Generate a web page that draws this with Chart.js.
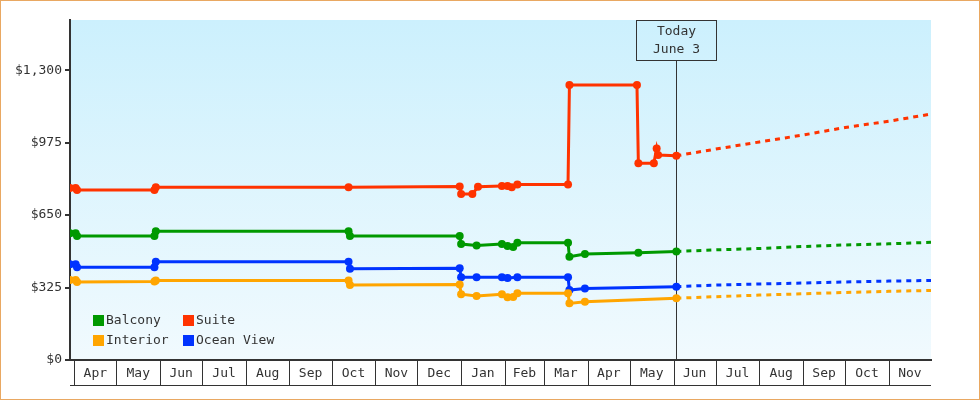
<!DOCTYPE html>
<html>
<head>
<meta charset="utf-8">
<title>Cabin prices</title>
<script src="https://cdn.jsdelivr.net/npm/chart.js@4.4.1/dist/chart.umd.min.js"></script>
<style>
  html, body { margin: 0; padding: 0; background: #fff; }
  canvas { display: block; }
</style>
</head>
<body>
<canvas id="grafico" width="980" height="400"></canvas>
<script>
// =============================
// DATOS
// =============================
const meses = ["Apr", "May", "Jun", "Jul", "Aug", "Sep", "Oct", "Nov", "Dec", "Jan",
  "Feb", "Mar", "Apr", "May", "Jun", "Jul", "Aug", "Sep", "Oct", "Nov"];
const iniciosMes = ["2016-04-01", "2016-05-01", "2016-06-01", "2016-07-01", "2016-08-01",
  "2016-09-01", "2016-10-01", "2016-11-01", "2016-12-01", "2017-01-01", "2017-02-01",
  "2017-03-01", "2017-04-01", "2017-05-01", "2017-06-01", "2017-07-01", "2017-08-01",
  "2017-09-01", "2017-10-01", "2017-11-01", "2017-12-01"];
const ticksPrecio = [0, 325, 650, 975, 1300];
const fechaInicio = "2016-03-29";
const fechaFin = "2017-12-01";
const fechaHoy = "2017-06-03";
const textoHoy = ["Today", "June 3"];

const fechasBalcony = ["2016-03-29", "2016-04-02", "2016-04-03", "2016-05-28", "2016-05-29",
  "2016-10-13", "2016-10-14", "2016-12-31", "2017-01-01", "2017-01-12", "2017-01-30",
  "2017-02-03", "2017-02-07", "2017-02-10", "2017-03-18", "2017-03-19", "2017-03-30",
  "2017-05-07", "2017-06-03"];
const preciosBalcony = [568, 568, 556, 556, 578, 578, 556, 556, 520, 514, 520, 511, 507,
  526, 526, 463, 475, 481, 487];

const fechasSuite = ["2016-03-29", "2016-04-02", "2016-04-03", "2016-05-28", "2016-05-29",
  "2016-10-13", "2016-12-31", "2017-01-01", "2017-01-09", "2017-01-13", "2017-01-30",
  "2017-02-03", "2017-02-06", "2017-02-10", "2017-03-18", "2017-03-19", "2017-05-06",
  "2017-05-07", "2017-05-18", "2017-05-20", "2017-05-21", "2017-06-03"];
const preciosSuite = [771, 771, 762, 762, 775, 775, 778, 744, 744, 777, 780, 780, 775,
  787, 787, 1233, 1233, 882, 882, 949, 919, 916];

const fechasInterior = ["2016-03-29", "2016-04-02", "2016-04-03", "2016-05-28", "2016-05-29",
  "2016-10-13", "2016-10-14", "2016-12-31", "2017-01-01", "2017-01-12", "2017-01-30",
  "2017-02-03", "2017-02-07", "2017-02-10", "2017-03-18", "2017-03-19", "2017-03-30",
  "2017-06-03"];
const preciosInterior = [359, 359, 350, 352, 357, 357, 336, 339, 295, 287, 295, 281, 283,
  299, 299, 254, 261, 277];

const fechasOcean = ["2016-03-29", "2016-04-02", "2016-04-03", "2016-05-28", "2016-05-29",
  "2016-10-13", "2016-10-14", "2016-12-31", "2017-01-01", "2017-01-12", "2017-01-30",
  "2017-02-03", "2017-02-10", "2017-03-18", "2017-03-19", "2017-03-30", "2017-06-03"];
const preciosOcean = [429, 429, 416, 416, 441, 441, 409, 412, 371, 371, 371, 368, 371,
  371, 314, 321, 329];

// proyeccion (linea punteada desde hoy)
const fechasProyeccion = ["2017-06-03", "2017-07-01", "2017-08-01", "2017-09-01",
  "2017-10-01", "2017-11-01", "2017-12-01"];
const proyBalcony = [487, 494, 500, 509, 516, 521, 528];
const proySuite = [916, 946, 978, 1009, 1043, 1071, 1103];
const proyInterior = [277, 284, 291, 297, 303, 308, 312];
const proyOcean = [329, 336, 341, 345, 350, 354, 357];

const colorBalcony = "#009900";
const colorSuite = "#ff3300";
const colorInterior = "#ffa500";
const colorOcean = "#0033ff";
const colorTexto = "#333333";
const fuente = "'DejaVu Sans Mono', monospace";

// =============================
// UTILIDADES
// =============================
const BASE = Date.parse("2016-04-01");

function dia(iso) {
  return (Date.parse(iso) - BASE) / 86400000;
}

function puntos(fechas, valores) {
  return fechas.map((f, i) => ({ x: dia(f), y: valores[i] }));
}

function serieSolida(label, fechas, valores, color) {
  return {
    label,
    data: puntos(fechas, valores),
    borderColor: color,
    backgroundColor: color,
    borderWidth: 3,
    pointRadius: 4,
    pointBorderWidth: 0,
    pointBackgroundColor: color,
    tension: 0
  };
}

function serieProyectada(label, fechas, valores, color) {
  return {
    label: label + " (proy)",
    data: puntos(fechas, valores),
    borderColor: color,
    borderWidth: 3,
    borderDash: [5, 5],
    pointRadius: 0,
    tension: 0
  };
}

// =============================
// PLUGINS
// =============================
const pluginFondo = {
  id: "fondo",
  beforeDraw(chart) {
    const { ctx, chartArea: a, width, height } = chart;
    ctx.save();
    ctx.fillStyle = "#ffffff";
    ctx.fillRect(0, 0, width, height);
    const g = ctx.createLinearGradient(0, a.top, 0, a.bottom);
    g.addColorStop(0, "#ccf0fd");
    g.addColorStop(1, "#f1fafe");
    ctx.fillStyle = g;
    ctx.fillRect(a.left, a.top, a.right - a.left, a.bottom - a.top);
    ctx.strokeStyle = "#e9a862";
    ctx.lineWidth = 1;
    ctx.strokeRect(0.5, 0.5, width - 1, height - 1);
    ctx.restore();
  }
};

const pluginHoy = {
  id: "hoy",
  beforeDatasetsDraw(chart) {
    const { ctx, chartArea: a } = chart;
    const x = Math.round(chart.scales.x.getPixelForValue(dia(fechaHoy))) + 0.5;
    ctx.save();
    ctx.strokeStyle = colorTexto;
    ctx.lineWidth = 1;
    ctx.beginPath();
    ctx.moveTo(x, a.top + 40);
    ctx.lineTo(x, a.bottom);
    ctx.stroke();
    ctx.strokeRect(x - 40, a.top + 0.5, 80, 40);
    ctx.fillStyle = colorTexto;
    ctx.font = "13px " + fuente;
    ctx.textAlign = "center";
    ctx.textBaseline = "middle";
    ctx.fillText(textoHoy[0], x, a.top + 12);
    ctx.fillText(textoHoy[1], x, a.top + 30);
    ctx.restore();
  }
};

const pluginMeses = {
  id: "meses",
  afterDraw(chart) {
    const { ctx, chartArea: a } = chart;
    const escala = chart.scales.x;
    ctx.save();
    ctx.strokeStyle = colorTexto;
    ctx.lineWidth = 1;
    ctx.beginPath();
    iniciosMes.slice(0, -1).forEach(f => {
      const x = Math.round(escala.getPixelForValue(dia(f))) + 0.5;
      ctx.moveTo(x, a.bottom);
      ctx.lineTo(x, a.bottom + 25);
    });
    ctx.moveTo(a.left, a.bottom + 25.5);
    ctx.lineTo(a.right, a.bottom + 25.5);
    ctx.stroke();
    ctx.restore();
  }
};

const pluginLeyenda = {
  id: "leyenda",
  afterDatasetsDraw(chart) {
    const { ctx, chartArea: a } = chart;
    const items = [
      ["Balcony", colorBalcony, 0, 0], ["Suite", colorSuite, 1, 0],
      ["Interior", colorInterior, 0, 1], ["Ocean View", colorOcean, 1, 1]
    ];
    ctx.save();
    ctx.font = "13px " + fuente;
    ctx.textBaseline = "middle";
    items.forEach(([texto, color, col, fila]) => {
      const x = a.left + 23 + col * 90;
      const y = a.bottom - 45 + fila * 20;
      ctx.fillStyle = color;
      ctx.fillRect(x, y, 11, 11);
      ctx.fillStyle = colorTexto;
      ctx.fillText(texto, x + 13, y + 6);
    });
    ctx.restore();
  }
};

// =============================
// GRAFICO
// =============================
new Chart(document.getElementById("grafico"), {
  type: "line",
  data: {
    datasets: [
      serieProyectada("Interior", fechasProyeccion, proyInterior, colorInterior),
      serieProyectada("Ocean View", fechasProyeccion, proyOcean, colorOcean),
      serieProyectada("Balcony", fechasProyeccion, proyBalcony, colorBalcony),
      serieProyectada("Suite", fechasProyeccion, proySuite, colorSuite),
      serieSolida("Interior", fechasInterior, preciosInterior, colorInterior),
      serieSolida("Ocean View", fechasOcean, preciosOcean, colorOcean),
      serieSolida("Balcony", fechasBalcony, preciosBalcony, colorBalcony),
      serieSolida("Suite", fechasSuite, preciosSuite, colorSuite)
    ]
  },
  options: {
    responsive: false,
    animation: false,
    layout: { padding: { top: 20, right: 49, left: 0, bottom: 0 } },
    plugins: {
      legend: { display: false },
      tooltip: { enabled: false }
    },
    scales: {
      x: {
        type: "linear",
        min: dia(fechaInicio),
        max: dia(fechaFin),
        afterBuildTicks: escala => {
          escala.ticks = meses.map((m, i) => ({
            value: (dia(iniciosMes[i]) + dia(iniciosMes[i + 1])) / 2
          }));
        },
        afterFit: escala => { escala.height = 40; },
        grid: { display: true, drawOnChartArea: false, drawTicks: false, tickLength: 0, color: "rgba(0,0,0,0)" },
        border: { display: true, color: colorTexto, width: 2 },
        ticks: {
          autoSkip: false,
          maxRotation: 0,
          padding: 6,
          color: colorTexto,
          font: { family: fuente, size: 13 },
          callback: (v, i) => meses[i]
        }
      },
      y: {
        min: 0,
        max: 1525,
        afterBuildTicks: escala => {
          escala.ticks = ticksPrecio.map(v => ({ value: v }));
        },
        afterFit: escala => { escala.width = 70; },
        grid: { drawOnChartArea: false, drawTicks: true, tickLength: 5, color: colorTexto, lineWidth: 2 },
        border: { display: true, color: colorTexto, width: 2 },
        ticks: {
          padding: 3,
          color: colorTexto,
          font: { family: fuente, size: 13 },
          callback: v => "$" + v.toLocaleString("en-US")
        }
      }
    }
  },
  plugins: [pluginFondo, pluginHoy, pluginMeses, pluginLeyenda]
});
</script>
</body>
</html>
